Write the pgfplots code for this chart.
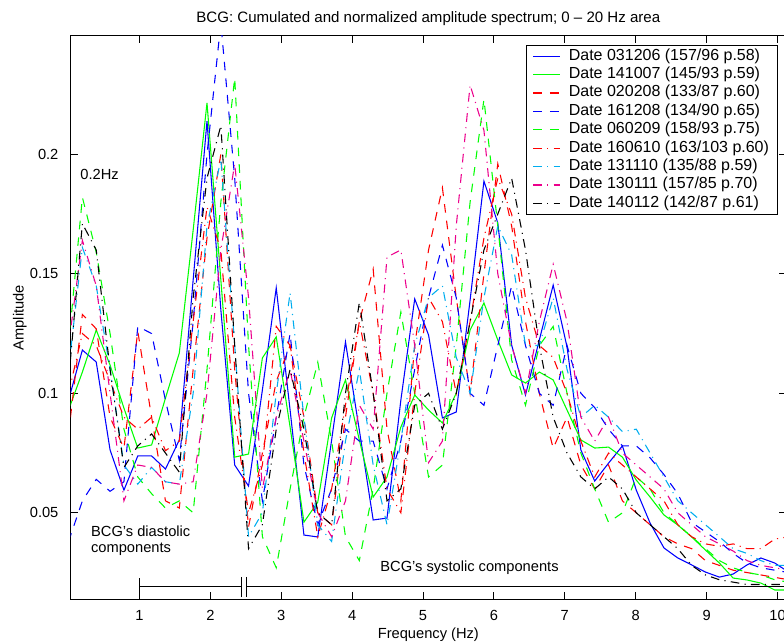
\documentclass[border=0pt]{standalone}
\usepackage{fontspec}
\setmainfont{Liberation Sans}
\usepackage{pgfplots}
\pgfplotsset{compat=1.18}
\usepackage{pgfplotstable}

\pgfplotstableread{
f b1 g1 r2 b2 g2 r3 c3 m3 k3
0.0000 0.0972 0.0930 0.083 0.038 0.120 0.100 0.110 0.120 0.105
0.1953 0.1181 0.1089 0.133 0.055 0.182 0.125 0.161 0.164 0.171
0.3906 0.1131 0.1265 0.127 0.064 0.159 0.120 0.145 0.145 0.160
0.5859 0.0763 0.1118 0.090 0.059 0.125 0.105 0.110 0.100 0.110
0.7813 0.0595 0.0938 0.077 0.063 0.085 0.090 0.070 0.055 0.069
0.9766 0.0738 0.0771 0.126 0.128 0.065 0.085 0.062 0.070 0.078
1.1719 0.0738 0.0784 0.090 0.125 0.058 0.090 0.069 0.069 0.083
1.3672 0.0683 0.0980 0.055 0.097 0.052 0.076 0.063 0.063 0.075
1.5625 0.0805 0.1169 0.052 0.072 0.055 0.080 0.062 0.062 0.067
1.7578 0.1474 0.1683 0.110 0.130 0.050 0.130 0.100 0.063 0.140
1.9531 0.2139 0.2215 0.165 0.200 0.110 0.178 0.170 0.100 0.190
2.1484 0.1349 0.1474 0.200 0.255 0.180 0.160 0.198 0.160 0.212
2.3438 0.0700 0.0733 0.110 0.190 0.232 0.090 0.120 0.196 0.120
2.5391 0.0612 0.0746 0.044 0.100 0.120 0.050 0.040 0.140 0.035
2.7344 0.1014 0.1148 0.075 0.055 0.040 0.070 0.050 0.060 0.045
2.9297 0.1441 0.1236 0.105 0.090 0.027 0.128 0.100 0.090 0.085
3.1250 0.0930 0.0859 0.120 0.125 0.060 0.120 0.142 0.110 0.110
3.3203 0.0407 0.0461 0.090 0.070 0.090 0.075 0.090 0.080 0.085
3.5156 0.0399 0.0545 0.050 0.045 0.113 0.040 0.045 0.050 0.050
3.7109 0.0805 0.0897 0.045 0.060 0.080 0.060 0.038 0.040 0.045
3.9063 0.1215 0.1056 0.090 0.085 0.040 0.095 0.080 0.055 0.100
4.1016 0.0846 0.0805 0.130 0.080 0.030 0.130 0.110 0.095 0.138
4.2969 0.0470 0.0566 0.152 0.080 0.060 0.100 0.070 0.085 0.100
4.4922 0.0478 0.0650 0.085 0.060 0.100 0.060 0.045 0.157 0.055
4.6875 0.0972 0.0859 0.055 0.080 0.134 0.050 0.080 0.160 0.060
4.8828 0.1395 0.0993 0.120 0.110 0.100 0.100 0.120 0.120 0.095
5.0781 0.1244 0.0930 0.160 0.140 0.065 0.140 0.140 0.071 0.100
5.2734 0.0897 0.0876 0.186 0.162 0.070 0.130 0.145 0.080 0.085
5.4688 0.0922 0.1001 0.140 0.140 0.120 0.100 0.115 0.170 0.100
5.6641 0.1390 0.1265 0.100 0.100 0.180 0.130 0.100 0.229 0.130
5.8594 0.1888 0.1378 0.150 0.095 0.223 0.165 0.140 0.210 0.160
6.0547 0.1713 0.1223 0.196 0.120 0.170 0.190 0.170 0.150 0.175
6.2500 0.1202 0.1077 0.170 0.145 0.114 0.175 0.158 0.120 0.190
6.4453 0.0993 0.1043 0.130 0.120 0.095 0.140 0.120 0.100 0.160
6.6406 0.1223 0.1089 0.100 0.100 0.120 0.120 0.120 0.130 0.120
6.8359 0.1453 0.1056 0.077 0.095 0.128 0.115 0.140 0.154 0.090
7.0313 0.1194 0.0930 0.090 0.120 0.100 0.100 0.110 0.130 0.075
7.2266 0.0763 0.0805 0.070 0.100 0.075 0.080 0.090 0.090 0.065
7.4219 0.0633 0.0771 0.060 0.094 0.060 0.065 0.095 0.080 0.060
7.6172 0.0708 0.0775 0.070 0.085 0.046 0.075 0.090 0.090 0.065
7.8125 0.0780 0.0733 0.055 0.078 0.050 0.070 0.084 0.075 0.060
8.0078 0.0595 0.0637 0.050 0.078 0.065 0.065 0.085 0.070 0.050
8.2031 0.0457 0.0566 0.045 0.073 0.060 0.060 0.075 0.065 0.045
8.3984 0.0353 0.0491 0.040 0.066 0.050 0.055 0.065 0.060 0.040
8.5938 0.0311 0.0449 0.037 0.058 0.045 0.045 0.055 0.050 0.035
8.7891 0.0282 0.0399 0.035 0.046 0.040 0.040 0.050 0.045 0.028
8.9844 0.0252 0.0344 0.030 0.042 0.035 0.037 0.045 0.040 0.024
9.1797 0.0231 0.0290 0.028 0.038 0.030 0.036 0.040 0.037 0.022
9.3750 0.0244 0.0227 0.026 0.033 0.027 0.037 0.035 0.034 0.021
9.5703 0.0282 0.0219 0.025 0.029 0.025 0.035 0.033 0.030 0.020
9.7656 0.0311 0.0206 0.024 0.027 0.024 0.035 0.030 0.028 0.020
9.9609 0.0290 0.0177 0.023 0.026 0.022 0.039 0.028 0.027 0.020
10.1563 0.0252 0.0177 0.022 0.025 0.021 0.040 0.028 0.026 0.020
}\spec

\begin{document}
\begin{tikzpicture}
\begin{axis}[
  at={(0pt,0pt)}, anchor=south west,
  scale only axis, width=536.5pt, height=422.5pt,
  xmin=0.03, xmax=10.12, ymin=0.0138, ymax=0.2495,
  xtick={1,2,3,4,5,6,7,8,9,10},
  xticklabels={1,2,3,4,5,6,7,8,9,10},
  ytick={0.05,0.1,0.15,0.2},
  yticklabels={0.05,0.1,0.15,0.2},
  scaled ticks=false,
  tick align=inside, major tick length=5.25pt,
  xtick pos=both, ytick pos=both,
  xticklabel pos=lower, yticklabel pos=left,
  axis line style={line width=0.75pt},
  every tick/.style={black, line width=0.75pt},
  font=\fontsize{11}{13}\selectfont,
  xticklabel style={anchor=base, inner sep=0pt, yshift=-15.75pt},
  yticklabel style={anchor=east, inner sep=0pt, xshift=-9pt},
  title={BCG: Cumulated and normalized amplitude spectrum; 0 – 20 Hz area},
  title style={at={(axis description cs:0.5,1)}, anchor=base, yshift=4pt, inner sep=0pt, font=\fontsize{11.3}{13}\selectfont},
  xlabel={Frequency (Hz)},
  xlabel style={at={(axis description cs:0.5,0)}, anchor=base, yshift=-29.6pt, inner sep=0pt},
  ylabel={Amplitude},
  ylabel style={at={(axis description cs:-0.0657,0.5)}, anchor=base, inner sep=0pt},
  legend style={at={(axis description cs:0.9878,0.9846)}, anchor=north east,
    fill=white, inner xsep=4.7pt, inner ysep=1.5pt,
    font=\fontsize{12}{14}\selectfont, row sep=0pt,
    cells={anchor=west},
    nodes={inner sep=1.3pt, text height=8.6pt, text depth=2.6pt},
    /tikz/every odd column/.append style={column sep=5pt}},
  legend image code/.code={\draw[#1, line width=0.9pt] (0pt,0pt) -- (20pt,0pt);},
]
\addplot[color=blue, line width=0.8pt] table[x=f,y=b1]{\spec};
\addlegendentry{Date 031206 (157/96 p.58)}
\addplot[color=green, line width=0.8pt] table[x=f,y=g1]{\spec};
\addlegendentry{Date 141007 (145/93 p.59)}
\addplot[color=red, line width=0.8pt, dash pattern=on 6.5pt off 6pt] table[x=f,y=r2]{\spec};
\addlegendentry{Date 020208 (133/87 p.60)}
\addplot[color=blue, line width=0.8pt, dash pattern=on 6.5pt off 6pt] table[x=f,y=b2]{\spec};
\addlegendentry{Date 161208 (134/90 p.65)}
\addplot[color=green, line width=0.8pt, dash pattern=on 6.5pt off 6pt] table[x=f,y=g2]{\spec};
\addlegendentry{Date 060209 (158/93 p.75)}
\addplot[color=red, line width=0.8pt, dash pattern=on 6.5pt off 4pt on 0.8pt off 4pt] table[x=f,y=r3]{\spec};
\addlegendentry{Date 160610 (163/103 p.60)}
\addplot[color=cyan, line width=0.8pt, dash pattern=on 6.5pt off 4pt on 0.8pt off 4pt] table[x=f,y=c3]{\spec};
\addlegendentry{Date 131110 (135/88 p.59)}
\addplot[color=magenta, line width=0.8pt, dash pattern=on 6.5pt off 4pt on 0.8pt off 4pt] table[x=f,y=m3]{\spec};
\addlegendentry{Date 130111 (157/85 p.70)}
\addplot[color=black, line width=0.8pt, dash pattern=on 6.5pt off 4pt on 0.8pt off 4pt] table[x=f,y=k3]{\spec};
\addlegendentry{Date 140112 (142/87 p.61)}

\draw[black, line width=0.7pt] (axis cs:1,0.0227) -- (axis cs:1,0.0160);
\draw[black, line width=0.7pt] (axis cs:1,0.0193) -- (axis cs:2.434,0.0193);
\draw[black, line width=0.7pt] (axis cs:2.434,0.0232) -- (axis cs:2.434,0.0147);
\draw[black, line width=0.7pt] (axis cs:2.505,0.0232) -- (axis cs:2.505,0.0147);
\draw[black, line width=0.7pt] (axis cs:2.505,0.0193) -- (axis cs:10.12,0.0193);

\node[anchor=base west, inner sep=0pt] at (axis cs:0.164,0.1894) {0.2Hz};
\node[anchor=base west, inner sep=0pt] at (axis cs:0.315,0.0403) {BCG’s diastolic};
\node[anchor=base west, inner sep=0pt] at (axis cs:0.315,0.0334) {components};
\node[anchor=base west, inner sep=0pt] at (axis cs:4.395,0.0254) {BCG’s systolic components};
\end{axis}
\pgfresetboundingbox
\useasboundingbox (-53.0pt,-32.8pt) rectangle (535.0pt,449.5pt);
\end{tikzpicture}
\end{document}
